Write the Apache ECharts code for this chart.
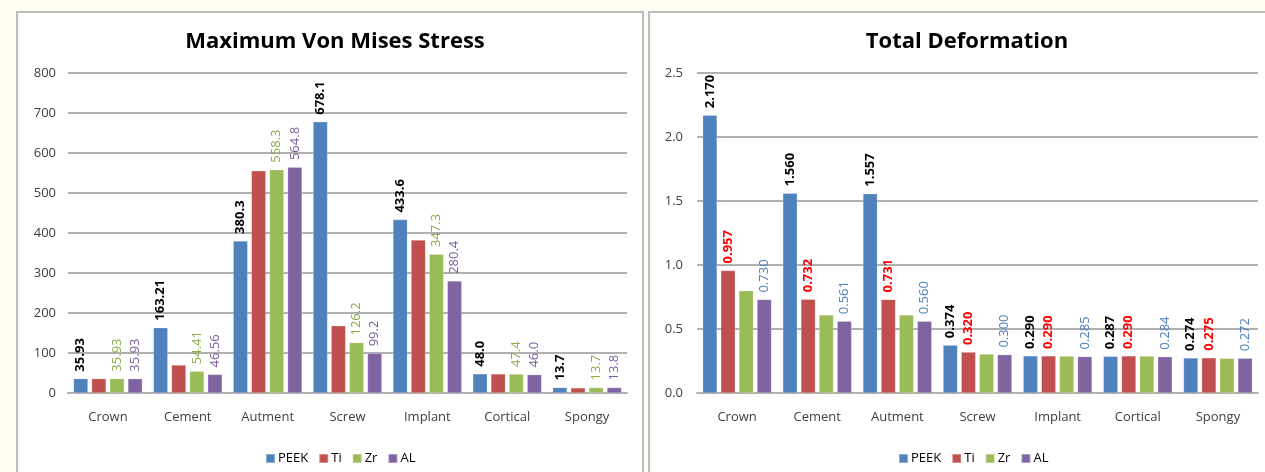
<!DOCTYPE html>
<html>
<head>
<meta charset="utf-8">
<script src="https://cdn.jsdelivr.net/npm/echarts@6/dist/echarts.min.js"></script>
<style>
  html, body { margin: 0; padding: 0; background: #fffef2; width: 1265px; height: 472px; overflow: hidden; }
  .panel { position: absolute; background: #ffffff; border: 2px solid #bcbcbc; box-sizing: border-box; }
  #p1 { left: 16px; top: 11px; width: 628px; height: 480px; }
  #p2 { left: 648px; top: 11px; width: 640px; height: 480px; }
  #chart { position: absolute; left: 0; top: 0; width: 1265px; height: 472px; }
</style>
</head>
<body>
<div class="panel" id="p1"></div>
<div class="panel" id="p2"></div>
<div id="chart"></div>
<script>
const categories = ['Crown', 'Cement', 'Autment', 'Screw', 'Implant', 'Cortical', 'Spongy'];
const seriesNames = ['PEEK', 'Ti', 'Zr', 'AL'];

// Maximum Von Mises Stress
const stressPEEK = [35.93, 163.21, 380.3, 678.1, 433.6, 48.0, 13.7];
const stressTi   = [35.93, 70.0, 555.5, 168.0, 382.5, 47.8, 12.8];
const stressZr   = [35.93, 54.41, 558.3, 126.2, 347.3, 47.4, 13.7];
const stressAL   = [35.93, 46.56, 564.8, 99.2, 280.4, 46.0, 13.8];
const stressDecimals = [2, 2, 1, 1, 1, 1, 1];

// Total Deformation
const defPEEK = [2.170, 1.560, 1.557, 0.374, 0.290, 0.287, 0.274];
const defTi   = [0.957, 0.732, 0.731, 0.320, 0.290, 0.290, 0.275];
const defZr   = [0.800, 0.610, 0.610, 0.305, 0.289, 0.289, 0.271];
const defAL   = [0.730, 0.561, 0.560, 0.300, 0.285, 0.284, 0.272];

const stressTicks = { min: 0, max: 800, interval: 100 };
const defTicks = { min: 0, max: 2.5, interval: 0.5 };

const colors = ['#4f81bd', '#c0504d', '#9bbb59', '#8064a2'];
const FONT = 'Open Sans';

const chart = echarts.init(document.getElementById('chart'), null, { renderer: 'canvas' });

function lbl(color, bold, fmt) {
  return {
    show: true, position: 'top', rotate: 90, align: 'left', verticalAlign: 'middle',
    distance: 7, color: color, fontSize: 13, fontFamily: FONT,
    fontWeight: bold ? 'bold' : 'normal', formatter: fmt
  };
}
const fmtStress = p => p.value.toFixed(stressDecimals[p.dataIndex]);
const fmtDef = p => p.value.toFixed(3);

function bar(name, data, idx, label) {
  return {
    name: name, type: 'bar', data: data, xAxisIndex: idx, yAxisIndex: idx,
    barWidth: 14.5, barGap: '25%',
    itemStyle: { color: colors[seriesNames.indexOf(name)], borderColor: 'rgba(255,255,255,0.35)', borderWidth: 0.6 },
    label: label || { show: false },
    emphasis: { disabled: true }, animation: false
  };
}

const axisLabelStyle = { color: '#404040', fontSize: 13, fontFamily: FONT };
const gridLine = { show: true, lineStyle: { color: '#b0b0b0', width: 2 } };

function xAx(gi) {
  return {
    type: 'category', data: categories, gridIndex: gi,
    axisLine: { show: true, lineStyle: { color: '#b0b0b0', width: 2 } },
    axisTick: { show: false },
    axisLabel: Object.assign({ margin: 18 }, axisLabelStyle)
  };
}

chart.setOption({
  animation: false,
  textStyle: { fontFamily: FONT },
  title: [
    { text: 'Maximum Von Mises Stress', left: 330, top: 26, textAlign: 'center',
      textStyle: { fontSize: 22, fontWeight: 'bold', color: '#000', fontFamily: FONT } },
    { text: 'Total Deformation', left: 962, top: 26, textAlign: 'center',
      textStyle: { fontSize: 22, fontWeight: 'bold', color: '#000', fontFamily: FONT } }
  ],
  legend: [
    { data: seriesNames, left: 260, top: 447, itemWidth: 9, itemHeight: 9, itemGap: 10,
      icon: 'rect', textStyle: { fontSize: 13, color: '#000', fontFamily: FONT, padding: [0, 0, 0, -2] },
      selectedMode: false },
    { data: seriesNames, left: 893, top: 447, itemWidth: 9, itemHeight: 9, itemGap: 10,
      icon: 'rect', textStyle: { fontSize: 13, color: '#000', fontFamily: FONT, padding: [0, 0, 0, -2] },
      selectedMode: false }
  ],
  grid: [
    { left: 68, top: 73, width: 559, height: 320 },
    { left: 697, top: 73, width: 561, height: 320 }
  ],
  xAxis: [xAx(0), xAx(1)],
  yAxis: [
    { type: 'value', gridIndex: 0, min: stressTicks.min, max: stressTicks.max, interval: stressTicks.interval,
      axisLine: { show: false }, axisTick: { show: false }, splitLine: gridLine,
      axisLabel: Object.assign({ margin: 12 }, axisLabelStyle) },
    { type: 'value', gridIndex: 1, min: defTicks.min, max: defTicks.max, interval: defTicks.interval,
      axisLine: { show: false }, axisTick: { show: false }, splitLine: gridLine,
      axisLabel: Object.assign({ margin: 14, formatter: v => v.toFixed(1) }, axisLabelStyle) }
  ],
  series: [
    bar('PEEK', stressPEEK, 0, lbl('#000000', true, fmtStress)),
    bar('Ti', stressTi, 0, null),
    bar('Zr', stressZr, 0, lbl('#8aab48', false, fmtStress)),
    bar('AL', stressAL, 0, lbl('#7a5e9c', false, fmtStress)),
    bar('PEEK', defPEEK, 1, lbl('#000000', true, fmtDef)),
    bar('Ti', defTi, 1, lbl('#ff0000', true, fmtDef)),
    bar('Zr', defZr, 1, null),
    bar('AL', defAL, 1, lbl('#4a7ebb', false, fmtDef))
  ]
});
</script>
</body>
</html>
